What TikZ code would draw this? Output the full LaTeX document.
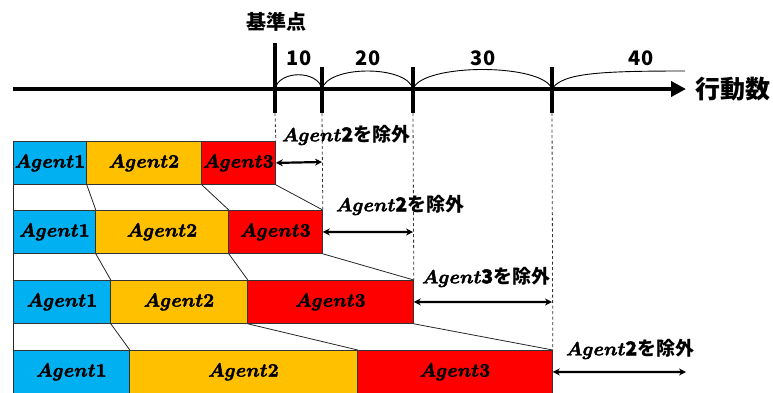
\documentclass[tikz,border=0pt]{standalone}
\usepackage{graphicx}
\usepackage{fontspec}
\newfontfamily\jp{Noto Sans CJK JP}
\usetikzlibrary{arrows.meta}
\definecolor{acyan}{HTML}{00B0F0}
\definecolor{aorange}{HTML}{FFC000}
\definecolor{ared}{HTML}{FF0000}
\newcommand{\agt}[2]{\scalebox{1.9}{\fontsize{10}{10}\selectfont\special{pdf:literal direct 2 Tr 0.22 w}\boldmath$#1$\textbf{#2}\special{pdf:literal direct 0 Tr}}}
\begin{document}
\begin{tikzpicture}[x=1pt,y=-1pt,
  abox/.style={draw=black!80, line width=0.8pt, anchor=north west, inner sep=0pt,
    minimum height=43pt},
  conn/.style={draw=black!85, line width=0.8pt},
  guide/.style={draw=black!80, line width=0.8pt, dash pattern=on 3pt off 2.5pt},
  tick/.style={line width=4pt},
  span/.style={line width=0.9pt},
  dbl/.style={line width=2.2pt, {Stealth[length=7pt,width=7pt]}-{Stealth[length=7pt,width=7pt]}},
  lab/.style={font=\fontsize{19}{19}\selectfont\jp\bfseries, inner sep=0pt},
  num/.style={font=\fontsize{20}{20}\selectfont\jp\bfseries, inner sep=0pt}]
\useasboundingbox (0,0) rectangle (773,392);
% axis
\coordinate (ax0) at (13,89);
\coordinate (ax1) at (686,89);
\draw[line width=4pt, -{Triangle[length=15pt,width=15pt]}] (ax0) -- (ax1);
\coordinate (t0) at (275,89);
\coordinate (t1) at (322,89);
\coordinate (t2) at (413,89);
\coordinate (t3) at (552,89);
\coordinate (t0b) at (275,113);
\coordinate (t1b) at (322,113);
\coordinate (t2b) at (413,113);
\coordinate (t3b) at (552,113);
\draw[tick] (275,43) -- (t0b);
\draw[tick] (322,67) -- (t1b);
\draw[tick] (413,67) -- (t2b);
\draw[tick] (552,67) -- (t3b);
\node[num] (base) at (276,22) {基準点};
\node[font=\fontsize{25}{25}\selectfont\jp\bfseries, inner sep=0pt] (act) at (733,89) {行動数};
% spans
\draw[span] (t0) .. controls (279,70) and (318,70) .. (t1);
\draw[span] (t1) .. controls (328,65) and (407,65) .. (t2);
\draw[span] (t2) .. controls (422,63) and (543,63) .. (t3);
\coordinate (e40) at (685,71);
\draw[span] (t3) .. controls (562,73) and (600,71) .. (e40);
\node[num] (n10) at (299,58) {10};
\node[num] (n20) at (368,58) {20};
\node[num] (n30) at (483,58) {30};
\node[num] (n40) at (641,58) {40};
% rows
\node[abox, fill=acyan,   minimum width=73pt]  (r1a) at (13,141)  {\agt{Agent}{1}};
\node[abox, fill=aorange, minimum width=115pt] (r1b) at (86,141)  {\agt{Agent}{2}};
\node[abox, fill=ared,    minimum width=74pt]  (r1c) at (201,141) {\agt{Agent}{3}};
\node[abox, fill=acyan,   minimum width=82pt]  (r2a) at (13,210)  {\agt{Agent}{1}};
\node[abox, fill=aorange, minimum width=133pt] (r2b) at (95,210)  {\agt{Agent}{2}};
\node[abox, fill=ared,    minimum width=94pt]  (r2c) at (228,210) {\agt{Agent}{3}};
\node[abox, fill=acyan,   minimum width=97pt]  (r3a) at (13,280)  {\agt{Agent}{1}};
\node[abox, fill=aorange, minimum width=137pt] (r3b) at (110,280) {\agt{Agent}{2}};
\node[abox, fill=ared,    minimum width=166pt] (r3c) at (247,280) {\agt{Agent}{3}};
\node[abox, fill=acyan,   minimum width=116pt] (r4a) at (13,350)  {\agt{Agent}{1}};
\node[abox, fill=aorange, minimum width=228pt] (r4b) at (129,350) {\agt{Agent}{2}};
\node[abox, fill=ared,    minimum width=195pt] (r4c) at (357,350) {\agt{Agent}{3}};
% connectors between rows
\foreach \u/\l in {r1/r2, r2/r3, r3/r4}{
  \draw[conn] (\u a.south west) -- (\l a.north west);
  \draw[conn] (\u a.south east) -- (\l a.north east);
  \draw[conn] (\u b.south east) -- (\l b.north east);
  \draw[conn] (\u c.south east) -- (\l c.north east);
}
% guides
\draw[guide] (t0b) -- (r1c.north east);
\draw[guide] (t1b) -- (r2c.north east);
\draw[guide] (t2b) -- (r3c.north east);
\draw[guide] (t3b) -- (r4c.north east);
% exclusion arrows
\coordinate (x1) at (322,162);
\coordinate (x2) at (413,232);
\coordinate (x3) at (552,302);
\coordinate (x4) at (686,372);
\draw[dbl] (r1c.east) -- (x1);
\draw[dbl] (r2c.east) -- (x2);
\draw[dbl] (r3c.east) -- (x3);
\draw[dbl] (r4c.east) -- (x4);
\node[lab] (l1) at (346,135) {\agt{Agent}{2}を除外};
\node[lab] (l2) at (400,205) {\agt{Agent}{2}を除外};
\node[lab] (l3) at (486,277) {\agt{Agent}{3}を除外};
\node[lab] (l4) at (630,349) {\agt{Agent}{2}を除外};
\end{tikzpicture}
\end{document}
